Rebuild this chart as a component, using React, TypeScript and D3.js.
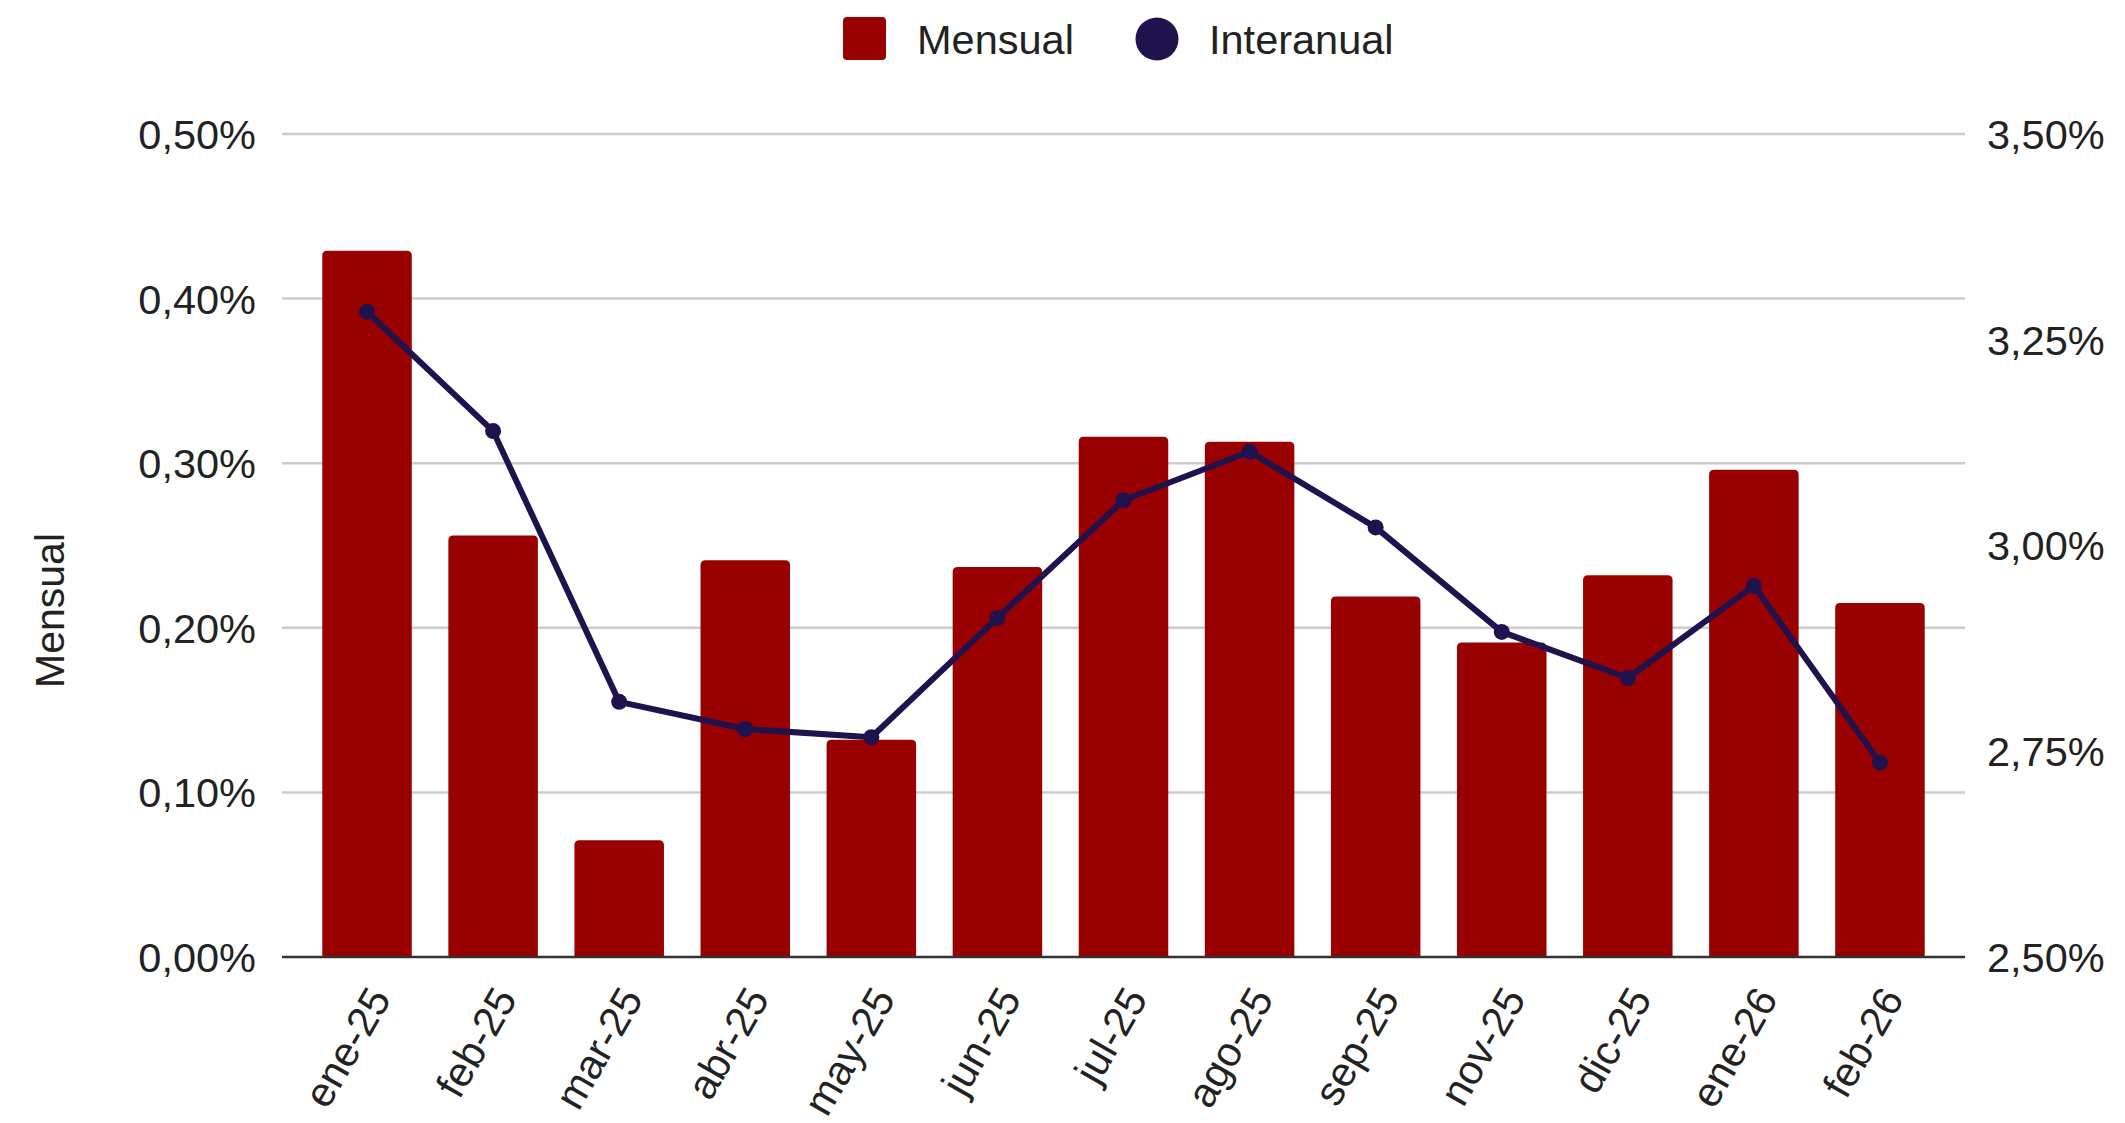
import React from "react";
import * as d3 from "d3";

const months = [
  "ene-25", "feb-25", "mar-25", "abr-25", "may-25", "jun-25", "jul-25",
  "ago-25", "sep-25", "nov-25", "dic-25", "ene-26", "feb-26",
];
// variación mensual (%)
const mensual = [0.429, 0.256, 0.071, 0.241, 0.132, 0.237, 0.316, 0.313, 0.219, 0.191, 0.232, 0.296, 0.215];
// variación interanual (%)
const interanual = [3.284, 3.139, 2.81, 2.777, 2.767, 2.912, 3.055, 3.114, 3.022, 2.895, 2.839, 2.951, 2.736];

const leftTicks = [0, 0.1, 0.2, 0.3, 0.4, 0.5];
const rightTicks = [2.5, 2.75, 3.0, 3.25, 3.5];

const W = 2125;
const H = 1123;
const BAR = "#990000";
const LINE = "#20124d";
const FONT = "'Liberation Sans', Arial, sans-serif";

const fmt = (v: number) => v.toFixed(2).replace(".", ",") + "%";

// bar with rounded top corners
const barPath = (x: number, y: number, w: number, h: number, r: number) => {
  const rr = Math.min(r, h / 2, w / 2);
  return `M${x},${y + h}V${y + rr}Q${x},${y} ${x + rr},${y}H${x + w - rr}Q${x + w},${y} ${x + w},${y + rr}V${y + h}Z`;
};

const App = () => {
  const plotLeft = 282;
  const plotRight = 1965;
  const top = 134;
  const bottom = 957;

  const x = d3.scaleBand().domain(months).range([304, 1943]).paddingInner(0.29).paddingOuter(0.145);
  const yL = d3.scaleLinear().domain([0, 0.5]).range([bottom, top]);
  const yR = d3.scaleLinear().domain([2.5, 3.5]).range([bottom, top]);

  const cx = (m: string) => (x(m) as number) + x.bandwidth() / 2;

  const line = d3
    .line<number>()
    .x((_, i) => cx(months[i]))
    .y((d) => yR(d));

  return (
    <svg
      width={W}
      height={H}
      style={{ position: "absolute", left: 0, top: 0, background: "#fff", fontFamily: FONT }}
    >
      {/* legend */}
      <g>
        <rect x={843} y={17} width={43} height={43} rx={4} fill={BAR} />
        <text x={917} y={39} dy="0.36em" fontSize={41.5} fill="#222">Mensual</text>
        <circle cx={1157} cy={39} r={21.5} fill={LINE} />
        <text x={1209} y={39} dy="0.36em" fontSize={41.5} fill="#222">Interanual</text>
      </g>

      {/* gridlines */}
      {leftTicks.slice(1).map((t) => (
        <line key={t} x1={plotLeft} x2={plotRight} y1={yL(t)} y2={yL(t)} stroke="#cccccc" strokeWidth={2.5} />
      ))}

      {/* left axis labels */}
      {leftTicks.map((t) => (
        <text key={t} x={256} y={yL(t)} dy="0.36em" textAnchor="end" fontSize={41.5} fill="#222">
          {fmt(t)}
        </text>
      ))}

      {/* right axis labels */}
      {rightTicks.map((t) => (
        <text key={t} x={1987} y={yR(t)} dy="0.36em" textAnchor="start" fontSize={41.5} fill="#222">
          {fmt(t)}
        </text>
      ))}

      <text
        transform={`translate(49,${(top + bottom) / 2 + 65}) rotate(-90)`}
        textAnchor="middle"
        dy="0.36em"
        fontSize={41}
        fill="#222"
      >
        Mensual
      </text>

      {/* bars */}
      {mensual.map((v, i) => (
        <path
          key={months[i]}
          d={barPath(x(months[i]) as number, yL(v), x.bandwidth(), bottom - yL(v), 5)}
          fill={BAR}
        />
      ))}

      {/* baseline */}
      <line x1={plotLeft} x2={plotRight} y1={bottom} y2={bottom} stroke="#333" strokeWidth={2.5} />

      {/* interanual line */}
      <path d={line(interanual) || ""} fill="none" stroke={LINE} strokeWidth={6} strokeLinejoin="round" />
      {interanual.map((v, i) => (
        <circle key={months[i]} cx={cx(months[i])} cy={yR(v)} r={8} fill={LINE} />
      ))}

      {/* x labels */}
      {months.map((m) => (
        <text
          key={m}
          transform={`translate(${cx(m) + 12},${bottom + 34}) rotate(-60)`}
          textAnchor="end"
          dy="0.36em"
          fontSize={41.5}
          fill="#222"
        >
          {m}
        </text>
      ))}
    </svg>
  );
};

export default App;
